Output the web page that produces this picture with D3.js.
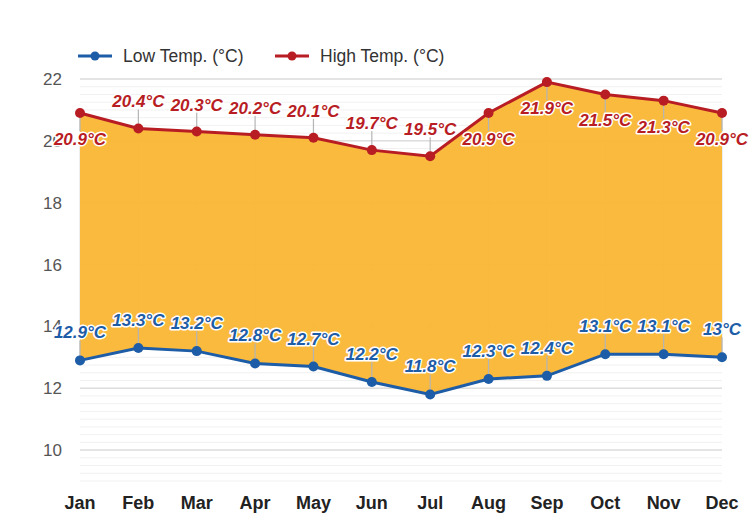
<!DOCTYPE html>
<html>
<head>
<meta charset="utf-8">
<script src="https://cdn.jsdelivr.net/npm/d3@7"></script>
<style>
  body { margin: 0; background: #fff; }
  svg { display: block; font-family: "Liberation Sans", Arial, sans-serif; }
</style>
</head>
<body>
<div id="chart"></div>
<script>
// données
const months = ['Jan', 'Feb', 'Mar', 'Apr', 'May', 'Jun', 'Jul', 'Aug', 'Sep', 'Oct', 'Nov', 'Dec'];
const lowTemps = [12.9, 13.3, 13.2, 12.8, 12.7, 12.2, 11.8, 12.3, 12.4, 13.1, 13.1, 13.0];
const highTemps = [20.9, 20.4, 20.3, 20.2, 20.1, 19.7, 19.5, 20.9, 21.9, 21.5, 21.3, 20.9];
const yTicks = [10, 12, 14, 16, 18, 20, 22];
const seriesNames = ['Low Temp. (°C)', 'High Temp. (°C)'];

const width = 749, height = 513;
const lowColor = '#1d5ca6', highColor = '#b81d24', areaColor = '#f9b634';

const data = months.map((m, i) => ({ month: m, low: lowTemps[i], high: highTemps[i] }));

const svg = d3.select('#chart').append('svg')
  .attr('width', width)
  .attr('height', height);

const x = d3.scalePoint().domain(months).range([80, 722]);
const y = d3.scaleLinear().domain([9, 22]).range([481, 79]);

// grille fine (tous les 0.25) puis grille principale
const minor = d3.range(9, 22.01, 0.25);
svg.append('g').selectAll('line')
  .data(minor)
  .enter().append('line')
  .attr('x1', x('Jan')).attr('x2', x('Dec'))
  .attr('y1', d => y(d)).attr('y2', d => y(d))
  .attr('stroke', '#f1f1f1')
  .attr('stroke-width', 1);

svg.append('g').selectAll('line')
  .data(yTicks)
  .enter().append('line')
  .attr('x1', x('Jan')).attr('x2', x('Dec'))
  .attr('y1', d => y(d)).attr('y2', d => y(d))
  .attr('stroke', '#dedede')
  .attr('stroke-width', 1.5);

// axe Y
svg.append('g').selectAll('text')
  .data(yTicks)
  .enter().append('text')
  .attr('x', 62)
  .attr('y', d => y(d) + 6)
  .attr('text-anchor', 'end')
  .attr('font-size', 17)
  .attr('fill', '#555')
  .text(d => d);

// axe X
svg.append('g').selectAll('text')
  .data(months)
  .enter().append('text')
  .attr('x', d => x(d))
  .attr('y', 509)
  .attr('text-anchor', 'middle')
  .attr('font-size', 18)
  .attr('font-weight', 'bold')
  .attr('fill', '#222')
  .text(d => d);

// zone entre min et max
const area = d3.area()
  .x(d => x(d.month))
  .y0(d => y(d.low))
  .y1(d => y(d.high));

// lignes verticales sous la zone
svg.append('g').selectAll('line')
  .data(data)
  .enter().append('line')
  .attr('x1', d => x(d.month)).attr('x2', d => x(d.month))
  .attr('y1', d => y(d.high)).attr('y2', d => y(d.low))
  .attr('stroke', '#ddd');

svg.append('path')
  .datum(data)
  .attr('d', area)
  .attr('fill', areaColor)
  .attr('fill-opacity', 0.95);

// position des étiquettes : sous le point quand on est près du haut
const highBelow = d => d.high >= 20.9;
const highLabelY = d => highBelow(d) ? y(d.high) + 26 : y(d.high) - 27;
const lowLabelY = d => y(d.low) - 28;

// traits de rappel
const leaders = svg.append('g').attr('stroke', '#b5b5b5').attr('stroke-width', 1.2);
leaders.selectAll('.hl')
  .data(data)
  .enter().append('line')
  .attr('x1', d => x(d.month)).attr('x2', d => x(d.month))
  .attr('y1', d => y(d.high))
  .attr('y2', d => highBelow(d) ? highLabelY(d) - 8 : highLabelY(d) + 8);
leaders.selectAll('.ll')
  .data(data)
  .enter().append('line')
  .attr('x1', d => x(d.month)).attr('x2', d => x(d.month))
  .attr('y1', d => y(d.low))
  .attr('y2', d => lowLabelY(d) + 8);

function drawSeries(key, color) {
  const line = d3.line().x(d => x(d.month)).y(d => y(d[key]));
  svg.append('path')
    .datum(data)
    .attr('d', line)
    .attr('fill', 'none')
    .attr('stroke', color)
    .attr('stroke-width', 3);
  svg.append('g').selectAll('circle')
    .data(data)
    .enter().append('circle')
    .attr('cx', d => x(d.month))
    .attr('cy', d => y(d[key]))
    .attr('r', 5)
    .attr('fill', color);
}
drawSeries('low', lowColor);
drawSeries('high', highColor);

function drawLabels(key, color, posY) {
  svg.append('g').selectAll('text')
    .data(data)
    .enter().append('text')
    .attr('x', d => x(d.month))
    .attr('y', d => posY(d) + 6)
    .attr('text-anchor', 'middle')
    .attr('font-size', 17)
    .attr('font-weight', 'bold')
    .attr('font-style', 'italic')
    .attr('fill', color)
    .attr('stroke', '#fff')
    .attr('stroke-width', 3)
    .attr('stroke-linejoin', 'round')
    .attr('paint-order', 'stroke')
    .text(d => d[key] + '°C');
}
drawLabels('low', lowColor, lowLabelY);
drawLabels('high', highColor, highLabelY);

// légende
const legendItems = [
  { name: seriesNames[0], color: lowColor, x: 78 },
  { name: seriesNames[1], color: highColor, x: 275 }
];
const legend = svg.append('g').selectAll('g')
  .data(legendItems)
  .enter().append('g')
  .attr('transform', d => `translate(${d.x},56)`);
legend.append('line')
  .attr('x1', 0).attr('x2', 34)
  .attr('stroke', d => d.color)
  .attr('stroke-width', 3);
legend.append('circle')
  .attr('cx', 17).attr('r', 4.5)
  .attr('fill', d => d.color);
legend.append('text')
  .attr('x', 45).attr('y', 6)
  .attr('font-size', 17.5)
  .attr('fill', '#333')
  .text(d => d.name);
</script>
</body>
</html>
